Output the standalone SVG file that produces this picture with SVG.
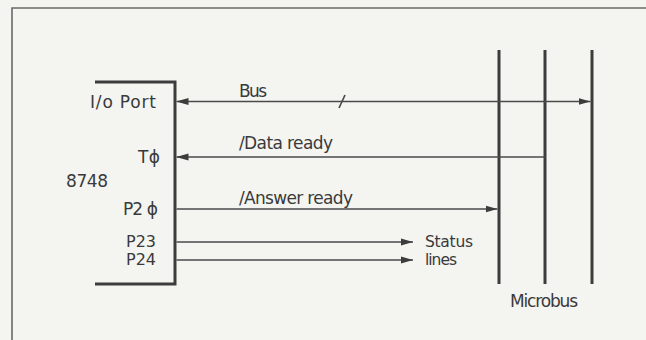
<svg xmlns="http://www.w3.org/2000/svg" width="646" height="340" viewBox="0 0 646 340">
  <defs>
    <marker id="ah" viewBox="0 0 12 8" refX="12" refY="4" markerWidth="12" markerHeight="8" markerUnits="userSpaceOnUse" orient="auto-start-reverse">
      <path d="M0,0.6 L12,4 L0,7.4 Z" fill="#3c3c3c"/>
    </marker>
    <style>
      text { font-family: "DejaVu Sans", "Liberation Sans", sans-serif; font-size: 17px; fill: #3a3a3a; }
      .r { text-anchor: end; }
      .sm { font-size: 15.5px; }
      .pin { font-size: 16px; }
      .sig { stroke: #4a4a4a; stroke-width: 1.7; fill: none; }
      .heavy { stroke: #3c3c3c; stroke-width: 3; fill: none; }
      .frame { stroke: #6a6a6a; stroke-width: 1.6; fill: none; }
    </style>
  </defs>

  <rect width="646" height="340" fill="#f4f4f1"/>
  <!-- page frame -->
  <path class="frame" d="M12,340 V8 H646"/>

  <!-- 8748 chip -->
  <g id="chip">
    <path class="heavy" d="M95,82 H175 V284 H95"/>
    <text x="66" y="187" textLength="42">8748</text>
    <text class="r" x="156" y="107.5" textLength="66">I/o Port</text>
    <text class="r" x="160" y="163" textLength="22">Tϕ</text>
    <text class="r" x="158" y="215" textLength="35">P2 ϕ</text>
    <text class="r pin" x="156" y="247">P23</text>
    <text class="r pin" x="156" y="265">P24</text>
  </g>

  <!-- microbus rails -->
  <g id="microbus">
    <line class="heavy" x1="499" y1="50" x2="499" y2="284"/>
    <line class="heavy" x1="545" y1="50" x2="545" y2="284"/>
    <line class="heavy" x1="592" y1="50" x2="592" y2="284"/>
    <text x="510" y="307" textLength="68">Microbus</text>
  </g>

  <g id="status">
    <text class="sm" x="425" y="247" textLength="48">Status</text>
    <text class="sm" x="425" y="265" textLength="32">lines</text>
  </g>

  <g id="connectors">
    <!-- Bus, bidirectional, multi-line -->
    <line class="sig" x1="176.5" y1="101.5" x2="590.5" y2="101.5" marker-start="url(#ah)" marker-end="url(#ah)"/>
    <line class="sig" x1="339" y1="108" x2="345" y2="95"/>
    <text x="239" y="97" textLength="28">Bus</text>
    <!-- Data ready -->
    <line class="sig" x1="545" y1="157" x2="176.5" y2="157" marker-end="url(#ah)"/>
    <text x="239" y="149" textLength="94">/Data ready</text>
    <!-- Answer ready -->
    <line class="sig" x1="176.5" y1="209" x2="497.5" y2="209" marker-end="url(#ah)"/>
    <text x="239" y="204" textLength="114">/Answer ready</text>
    <!-- status lines -->
    <line class="sig" x1="176.5" y1="242" x2="413" y2="242" marker-end="url(#ah)"/>
    <line class="sig" x1="176.5" y1="260" x2="413" y2="260" marker-end="url(#ah)"/>
  </g>
</svg>
